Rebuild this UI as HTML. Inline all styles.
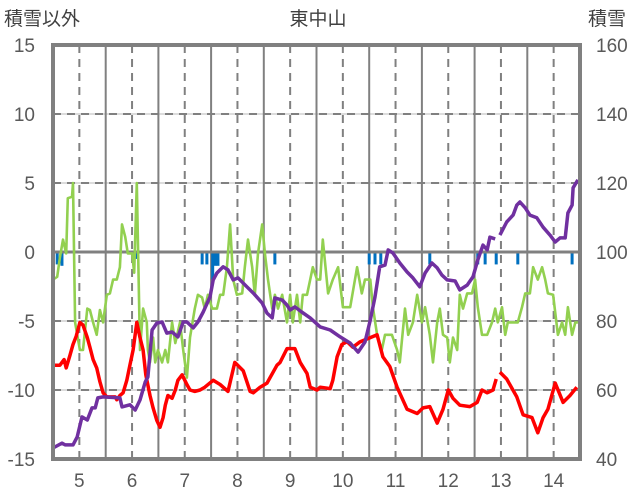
<!DOCTYPE html>
<html><head><meta charset="utf-8"><style>
html,body{margin:0;padding:0;background:#fff;}
svg{display:block;font-family:"Liberation Sans","Noto Sans CJK JP",sans-serif;}
</style></head><body>
<svg id="chart" width="636" height="501" viewBox="0 0 636 501" xmlns="http://www.w3.org/2000/svg">
<text x="318" y="25" font-size="19" fill="#404040" text-anchor="middle">東中山</text>
<text x="4" y="25" font-size="19" fill="#404040">積雪以外</text>
<text x="588" y="25" font-size="19" fill="#404040">積雪</text>
<g id="grid"></g>
<g id="series"></g>
<g id="axes"></g>
</svg>
<script>
const leftTicks=[15,10,5,0,-5,-10,-15];
const rightTicks=[160,140,120,100,80,60,40];
const monthLabels=[5,6,7,8,9,10,11,12,13,14];
const redX=[4.5,4.63,4.71,4.75,4.82,4.88,4.94,5.01,5.07,5.15,5.2,5.26,5.33,5.39,5.45,5.52,5.68,5.71,5.77,5.83,5.9,5.96,6.02,6.07,6.09,6.15,6.21,6.26,6.34,6.4,6.47,6.53,6.59,6.63,6.68,6.76,6.82,6.87,6.95,7.04,7.1,7.19,7.29,7.38,7.54,7.67,7.82,7.95,8.11,8.24,8.3,8.43,8.56,8.75,8.81,8.94,9.09,9.19,9.32,9.38,9.51,9.57,9.76,9.81,9.89,9.98,10.08,10.19,10.33,10.52,10.65,10.76,10.89,11.03,11.22,11.41,11.52,11.65,11.79,11.9,12.0,12.09,12.22,12.41,12.55,12.64,12.74,12.85,12.91,12.95,12.98,13.11,13.3,13.42,13.59,13.7,13.8,13.89,14.03,14.18,14.31,14.44];
const redVals=[-8.2,-8.2,-7.8,-8.4,-7.5,-6.7,-6.1,-5.1,-5.3,-6.2,-6.9,-7.8,-8.4,-9.4,-10.2,-10.5,-10.5,-10.7,-10.4,-10.2,-9.3,-8.2,-7.1,-5.7,-5.1,-6.2,-7.1,-8.9,-10.4,-11.3,-12.2,-12.7,-12.0,-11.1,-10.4,-10.6,-10.0,-9.3,-8.9,-9.6,-10.0,-10.1,-10.0,-9.8,-9.3,-9.6,-10.1,-8.0,-8.6,-10.1,-10.2,-9.8,-9.5,-8.2,-8.0,-7.0,-7.0,-8.0,-8.8,-9.8,-10.0,-9.8,-9.9,-9.3,-7.6,-6.7,-6.5,-6.9,-6.5,-6.2,-6.0,-7.6,-8.3,-9.8,-11.4,-11.7,-11.3,-11.2,-12.4,-11.4,-10.0,-10.6,-11.1,-11.2,-10.9,-10.0,-10.2,-10.0,-9.2,null,-8.7,-9.2,-10.5,-11.8,-12.0,-13.1,-12.0,-11.4,-9.5,-10.9,-10.4,-9.8];
const purpleX=[4.5,4.67,4.73,4.88,4.96,5.05,5.15,5.24,5.3,5.35,5.45,5.77,5.81,5.96,6.06,6.15,6.25,6.3,6.38,6.47,6.57,6.66,6.76,6.87,6.97,7.04,7.16,7.25,7.35,7.48,7.54,7.61,7.73,7.82,7.92,8.01,8.18,8.3,8.47,8.56,8.66,8.71,8.85,8.94,9.0,9.09,9.22,9.38,9.57,9.76,9.95,10.14,10.29,10.42,10.52,10.61,10.7,10.8,10.86,10.95,11.08,11.22,11.33,11.46,11.56,11.69,11.79,11.88,11.98,12.13,12.22,12.36,12.47,12.56,12.66,12.74,12.79,12.89,12.95,12.98,13.11,13.23,13.3,13.36,13.46,13.55,13.68,13.8,13.93,14.03,14.12,14.22,14.27,14.35,14.37,14.46];
const purpleVals=[43.2,44.6,44.1,44.1,46.4,52.2,51.3,54.8,54.8,57.7,58.0,57.7,55.1,55.7,54.2,57.1,62.3,63.8,77.4,79.4,79.7,76.5,76.8,75.4,79.7,79.7,78.0,79.7,82.6,87.0,91.9,93.9,95.7,94.8,91.9,92.5,89.9,88.1,85.2,82.3,80.9,86.7,86.1,84.6,83.2,84.1,82.6,80.9,78.3,77.4,75.4,73.6,71.0,73.9,80.3,87.0,95.7,96.2,100.6,99.7,96.8,94.2,92.5,89.9,93.9,96.8,95.4,93.3,91.9,91.6,89.0,90.4,92.8,97.7,102.0,100.6,104.3,103.8,null,104.9,108.7,110.7,113.6,114.5,112.8,110.7,109.9,107.2,104.9,102.9,104.1,104.1,111.3,113.6,118.6,120.9];
const greenX=[4.5,4.58,4.63,4.69,4.75,4.78,4.86,4.88,4.92,5.01,5.07,5.15,5.2,5.26,5.33,5.39,5.45,5.52,5.58,5.64,5.71,5.77,5.81,5.87,5.92,6.0,6.04,6.09,6.15,6.21,6.28,6.3,6.34,6.4,6.44,6.49,6.57,6.63,6.68,6.76,6.82,6.91,6.97,7.04,7.1,7.19,7.25,7.33,7.38,7.44,7.52,7.61,7.67,7.73,7.8,7.86,7.92,7.99,8.09,8.14,8.2,8.28,8.33,8.39,8.47,8.52,8.58,8.66,8.71,8.77,8.85,8.94,9.0,9.05,9.13,9.19,9.24,9.32,9.38,9.43,9.51,9.57,9.62,9.72,9.81,9.91,10.0,10.14,10.27,10.36,10.42,10.52,10.57,10.65,10.74,10.8,10.93,11.03,11.08,11.18,11.24,11.33,11.41,11.5,11.56,11.65,11.71,11.79,11.84,11.9,11.98,12.03,12.09,12.17,12.22,12.28,12.36,12.45,12.51,12.56,12.64,12.74,12.83,12.89,12.94,13.02,13.08,13.13,13.23,13.32,13.4,13.46,13.55,13.61,13.7,13.78,13.84,13.89,13.99,14.08,14.16,14.22,14.27,14.35,14.41,14.46];
const greenVals=[-2.0,-1.8,-0.4,0.9,-0.1,3.9,4.0,5.0,-5.1,-7.1,-7.1,-4.1,-4.2,-5.1,-6.0,-4.2,-5.1,-3.1,-3.0,-2.0,-2.0,-1.1,2.0,1.1,-0.1,-0.1,-1.5,5.0,-7.1,-4.1,-5.1,-7.1,-8.0,-6.2,-8.0,-7.1,-8.0,-7.1,-8.0,-5.1,-6.6,-5.1,-7.1,-9.1,-6.2,-4.1,-3.1,-3.3,-4.1,-3.1,-4.1,-4.1,-3.1,-3.1,-1.1,2.0,-2.0,-3.1,-3.0,-1.1,0.9,-1.1,-3.1,-0.1,2.0,-0.1,-2.0,-4.1,-3.1,-4.1,-3.1,-5.1,-3.1,-5.1,-3.1,-5.1,-3.1,-3.1,-2.0,-1.1,-2.0,-2.0,0.9,-3.0,-2.0,-1.1,-4.0,-4.0,-1.1,-3.0,-2.0,-2.0,-4.0,-6.0,-7.1,-6.0,-6.0,-7.1,-8.0,-4.1,-6.0,-5.1,-3.1,-5.1,-4.0,-6.0,-8.0,-5.1,-4.1,-6.0,-6.2,-8.0,-6.2,-7.1,-3.1,-4.1,-3.0,-3.0,-2.0,-4.0,-6.0,-6.0,-5.1,-4.1,-5.1,-4.0,-6.0,-5.1,-5.1,-5.1,-4.0,-3.0,-3.0,-1.1,-2.0,-1.1,-2.0,-3.0,-3.1,-6.0,-5.1,-6.0,-4.0,-6.0,-5.1,-5.1];
const blueX=[4.58,4.67,6.08,7.33,7.42,7.53,7.58,7.63,8.71,10.5,10.61,10.72,11.65,12.56,12.7,12.91,13.32,14.35];
const blueVals=[-0.9,-1.0,-0.5,-0.9,-0.9,-2.0,-1.0,-1.0,-0.9,-0.9,-0.9,-0.9,-0.9,-0.9,-0.9,-0.9,-0.9,-0.9];

const NS="http://www.w3.org/2000/svg";
const L=53,R=580,T=45,B=459;
const xS=m=>L+(m-4.5)*(R-L)/10;
const yL=v=>T+(15-v)*(B-T)/30;
const yR=v=>T+(160-v)*(B-T)/120;
function mk(tag,attrs,parent){const e=document.createElementNS(NS,tag);for(const k in attrs)e.setAttribute(k,attrs[k]);parent.appendChild(e);return e;}
const grid=document.getElementById('grid'),series=document.getElementById('series'),axes=document.getElementById('axes');

leftTicks.forEach(v=>{
  if(v===15||v===-15)return;
  if(v===0){
    const ln=mk('line',{x1:L,x2:R,y1:yL(0),y2:yL(0),stroke:'#808080','stroke-width':3},grid);
    
    
  }else{
    const ln=mk('line',{x1:L,x2:R,y1:yL(v),y2:yL(v),stroke:'#d0d0d0','stroke-width':1.5},grid);
    
    
    const d=mk('line',{x1:L,x2:R,y1:yL(v),y2:yL(v),stroke:'#808080','stroke-width':2,'stroke-dasharray':'8,6'},grid);
    
    
  }
});
monthLabels.forEach(m=>{
  const d=mk('line',{x1:xS(m),x2:xS(m),y1:T,y2:B,stroke:'#808080','stroke-width':2,'stroke-dasharray':'8,6'},grid);
  
  
  if(m<14){
    const s=mk('line',{x1:xS(m+0.5),x2:xS(m+0.5),y1:T,y2:B,stroke:'#808080','stroke-width':2},grid);
    
    
  }
  const t=mk('text',{x:xS(m),y:487,'font-size':19,fill:'#595959','text-anchor':'middle'},axes);
  t.textContent=m;
  
  
});
leftTicks.forEach(v=>{
  const t=mk('text',{x:35,y:yL(v)+7,'font-size':19,fill:'#595959','text-anchor':'end'},axes);
  t.textContent=v;
  
  
});
rightTicks.forEach(v=>{
  const t=mk('text',{x:596,y:yR(v)+7,'font-size':19,fill:'#595959'},axes);
  t.textContent=v;
  
  
});

blueX.forEach((m,i)=>{
  const y0=yL(0)+1.5,y1=yL(blueVals[i]);
  const r=mk('rect',{x:xS(m)-1.5,y:y0,width:3,height:Math.max(0,y1-y0),fill:'#0070c0'},series);
  
  
});
function path(xs,vs,ys){
  let d='',pen=false;
  xs.forEach((m,i)=>{const v=vs[i];if(v===null){pen=false;return;}d+=(pen?'L':'M')+xS(m).toFixed(1)+','+ys(v).toFixed(1);pen=true;});
  return d;
}
const g=mk('path',{d:path(greenX,greenVals,yL),fill:'none',stroke:'#92d050','stroke-width':2.6,'stroke-linejoin':'round'},series);


const r=mk('path',{d:path(redX,redVals,yL),fill:'none',stroke:'#ff0000','stroke-width':3.5,'stroke-linejoin':'round'},series);


const p=mk('path',{d:path(purpleX,purpleVals,yR),fill:'none',stroke:'#7030a0','stroke-width':3.5,'stroke-linejoin':'round'},series);


const f=mk('rect',{x:L,y:T,width:R-L,height:B-T,fill:'none',stroke:'#808080','stroke-width':4},axes);


</script>
</body></html>
